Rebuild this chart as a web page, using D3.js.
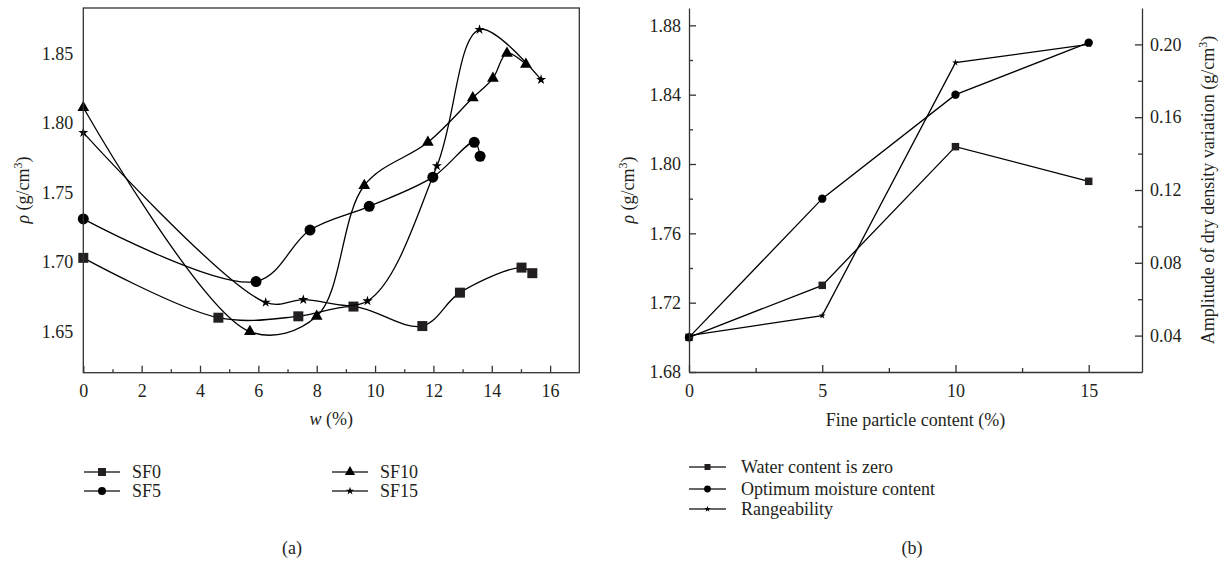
<!DOCTYPE html>
<html>
<head>
<meta charset="utf-8">
<script src="https://cdn.jsdelivr.net/npm/d3@7"></script>
<style>
  body { margin: 0; background: #fff; }
  text { font-family: "Liberation Serif", "DejaVu Serif", serif; font-size: 18px; fill: #231f20; }
</style>
</head>
<body>
<svg width="1226" height="567"></svg>
<script>
// ---- panel (a): dry density vs water content, one series per fine content
const sf0W   = [0, 4.63, 7.37, 9.26, 11.62, 12.91, 15.02, 15.39];
const sf0Rho = [1.703, 1.660, 1.661, 1.668, 1.654, 1.678, 1.696, 1.692];
const sf5W   = [0, 5.92, 7.77, 9.80, 11.98, 13.40, 13.60];
const sf5Rho = [1.731, 1.686, 1.723, 1.740, 1.761, 1.786, 1.776];
const sf10W   = [0, 5.71, 8.00, 9.63, 11.81, 13.35, 14.04, 14.52, 15.17];
const sf10Rho = [1.811, 1.650, 1.661, 1.755, 1.786, 1.818, 1.832, 1.850, 1.842];
const sf15W   = [0, 6.25, 7.54, 9.74, 12.12, 13.58, 15.69];
const sf15Rho = [1.793, 1.671, 1.673, 1.672, 1.769, 1.867, 1.831];
const seriesA = ["SF0", "SF5", "SF10", "SF15"];
const wTicks = [0, 2, 4, 6, 8, 10, 12, 14, 16];
const rhoTicksA = [1.65, 1.70, 1.75, 1.80, 1.85];

// ---- panel (b): vs fine particle content
const fineContent = [0, 5, 10, 15];
const waterZero    = [1.70, 1.73, 1.81, 1.79];
const optimum      = [1.70, 1.78, 1.84, 1.87];
const rangeability = [0.040, 0.051, 0.190, 0.200];   // right axis
const seriesB = ["Water content is zero", "Optimum moisture content", "Rangeability"];
const fineTicks = [0, 5, 10, 15];
const rhoTicksB = [1.68, 1.72, 1.76, 1.80, 1.84, 1.88];
const ampTicks = [0.04, 0.08, 0.12, 0.16, 0.20];

const svg = d3.select("svg");
const ink = "#231f20";

const sym = {
  square: d3.symbolSquare, circle: d3.symbolCircle,
  triangle: d3.symbolTriangle, star: d3.symbolStar
};

function rhoLabel(sel) {
  sel.append("tspan").attr("font-style", "italic").text("ρ");
  sel.append("tspan").text(" (g/cm");
  sel.append("tspan").attr("font-size", 12).attr("dy", -7).text("3");
  sel.append("tspan").attr("dy", 7).text(")");
}

// ================= (a)
const xa = d3.scaleLinear().domain([0, 17]).range([83.3, 579.3]);
const ya = d3.scaleLinear().domain([1.6205, 1.8825]).range([372.7, 8]);

const ga = svg.append("g");

const curveA = d3.line()
  .x(d => xa(d[0])).y(d => ya(d[1]))
  .curve(d3.curveCatmullRom.alpha(0.5));

const dataA = [
  {w: sf0W, r: sf0Rho, s: "square", size: 100},
  {w: sf5W, r: sf5Rho, s: "circle", size: 95},
  {w: sf10W, r: sf10Rho, s: "triangle", size: 60},
  {w: sf15W, r: sf15Rho, s: "star", size: 32}
];

dataA.forEach(d => {
  const pts = d.w.map((w, i) => [w, d.r[i]]);
  ga.append("path").attr("d", curveA(pts))
    .attr("fill", "none").attr("stroke", "#000").attr("stroke-width", 1.3);
  ga.selectAll(null).data(pts).join("path")
    .attr("transform", p => `translate(${xa(p[0])},${ya(p[1])})`)
    .attr("d", d3.symbol(sym[d.s], d.size))
    .attr("fill", d.s === "square" ? ink : "#000");
});

// frame
ga.append("rect")
  .attr("x", xa(0)).attr("y", ya.range()[1])
  .attr("width", xa(17) - xa(0)).attr("height", ya.range()[0] - ya.range()[1])
  .attr("fill", "none").attr("stroke", "#333").attr("stroke-width", 1.3);

ga.append("g")
  .attr("transform", `translate(0,${ya.range()[0]})`)
  .call(d3.axisBottom(xa).tickValues(wTicks).tickSizeInner(-7).tickSizeOuter(0).tickPadding(12))
  .call(g => g.select(".domain").remove())
  .call(g => g.selectAll("line").attr("stroke", "#333").attr("stroke-width", 1.3))
  .call(g => g.selectAll("text").attr("font-family", null));

ga.append("g")
  .attr("transform", `translate(0,${ya.range()[0]})`)
  .call(d3.axisBottom(xa).tickValues(d3.range(1, 17, 2)).tickSizeInner(-3.5).tickSizeOuter(0).tickFormat(""))
  .call(g => g.select(".domain").remove())
  .call(g => g.selectAll("line").attr("stroke", "#333").attr("stroke-width", 1.3));

ga.append("g")
  .attr("transform", `translate(${xa(0)},0)`)
  .call(d3.axisLeft(ya).tickValues(rhoTicksA).tickSize(0).tickPadding(10).tickFormat(d3.format(".2f")))
  .call(g => g.select(".domain").remove())
  .call(g => g.selectAll("text").attr("font-family", null));

ga.append("text")
  .attr("x", (xa(0) + xa(17)) / 2).attr("y", 425).attr("text-anchor", "middle")
  .call(t => {
    t.append("tspan").attr("font-style", "italic").text("w");
    t.append("tspan").text(" (%)");
  });

ga.append("text")
  .attr("transform", `translate(29,190) rotate(-90)`).attr("text-anchor", "middle")
  .call(rhoLabel);

// legend (a)
const legA = [
  {x: 84, y: 472, s: "square", size: 64},
  {x: 84, y: 491, s: "circle", size: 50},
  {x: 332, y: 472, s: "triangle", size: 45},
  {x: 332, y: 491, s: "star", size: 20}
];
legA.forEach((l, i) => {
  const g = ga.append("g").attr("transform", `translate(${l.x},${l.y})`);
  g.append("line").attr("x1", 0).attr("x2", 36).attr("stroke", "#333").attr("stroke-width", 1.5);
  g.append("path").attr("transform", "translate(18,0)")
    .attr("d", d3.symbol(sym[l.s], l.size)).attr("fill", l.s === "square" ? ink : "#000");
  g.append("text").attr("x", 48).attr("dy", "0.35em").text(seriesA[i]);
});

ga.append("text").attr("x", 292).attr("y", 548).attr("dy", "0.35em")
  .attr("text-anchor", "middle").text("(a)");

// ================= (b)
const xb = d3.scaleLinear().domain([0, 17]).range([689, 1142]);
const yb = d3.scaleLinear().domain([1.68, 1.89]).range([372, 8]);
const yr = d3.scaleLinear().domain([0.02, 0.22]).range([372, 8]);

const gb = svg.append("g");

const dataB = [
  {v: waterZero, y: yb, s: "square", size: 56},
  {v: optimum, y: yb, s: "circle", size: 55},
  {v: rangeability, y: yr, s: "star", size: 14}
];

dataB.forEach(d => {
  const line = d3.line().x((v, i) => xb(fineContent[i])).y(v => d.y(v));
  gb.append("path").attr("d", line(d.v))
    .attr("fill", "none").attr("stroke", "#000").attr("stroke-width", 1.3);
});
dataB.forEach(d => {
  gb.selectAll(null).data(d.v).join("path")
    .attr("transform", (v, i) => `translate(${xb(fineContent[i])},${d.y(v)})`)
    .attr("d", d3.symbol(sym[d.s], d.size))
    .attr("fill", d.s === "square" ? ink : "#000");
});

function styleAxis(g) {
  g.selectAll("line").attr("stroke", "#333").attr("stroke-width", 1.3);
  g.select(".domain").attr("stroke", "#333").attr("stroke-width", 1.3);
  g.selectAll("text").attr("font-family", null);
}

gb.append("g")
  .attr("transform", `translate(0,${yb.range()[0]})`)
  .call(d3.axisBottom(xb).tickValues(fineTicks).tickSizeInner(-7).tickSizeOuter(0).tickPadding(12))
  .call(styleAxis);
gb.append("g")
  .attr("transform", `translate(0,${yb.range()[0]})`)
  .call(d3.axisBottom(xb).tickValues([2.5, 7.5, 12.5]).tickSizeInner(-4).tickSizeOuter(0).tickFormat(""))
  .call(g => g.select(".domain").remove())
  .call(styleAxis);

gb.append("g")
  .attr("transform", `translate(${xb(0)},0)`)
  .call(d3.axisLeft(yb).tickValues(rhoTicksB).tickSizeInner(-7).tickSizeOuter(0).tickPadding(8).tickFormat(d3.format(".2f")))
  .call(styleAxis);
gb.append("g")
  .attr("transform", `translate(${xb(0)},0)`)
  .call(d3.axisLeft(yb).tickValues([1.70, 1.74, 1.78, 1.82, 1.86]).tickSizeInner(-4).tickSizeOuter(0).tickFormat(""))
  .call(g => g.select(".domain").remove())
  .call(styleAxis);

gb.append("g")
  .attr("transform", `translate(${xb(17)},0)`)
  .call(d3.axisRight(yr).tickValues(ampTicks).tickSizeInner(-7).tickSizeOuter(0).tickPadding(8).tickFormat(d3.format(".2f")))
  .call(styleAxis);
gb.append("g")
  .attr("transform", `translate(${xb(17)},0)`)
  .call(d3.axisRight(yr).tickValues([0.06, 0.10, 0.14, 0.18]).tickSizeInner(-4).tickSizeOuter(0).tickFormat(""))
  .call(g => g.select(".domain").remove())
  .call(styleAxis);

gb.append("text")
  .attr("x", (xb(0) + xb(17)) / 2).attr("y", 420).attr("dy", "0.35em").attr("text-anchor", "middle")
  .text("Fine particle content (%)");

gb.append("text")
  .attr("transform", `translate(634,190) rotate(-90)`).attr("text-anchor", "middle")
  .call(rhoLabel);

gb.append("text")
  .attr("transform", `translate(1214,190) rotate(-90)`).attr("text-anchor", "middle")
  .call(t => {
    t.append("tspan").text("Amplitude of dry density variation (g/cm");
    t.append("tspan").attr("font-size", 12).attr("dy", -7).text("3");
    t.append("tspan").attr("dy", 7).text(")");
  });

// legend (b)
const legB = [
  {y: 467, s: "square", size: 36},
  {y: 489, s: "circle", size: 36},
  {y: 509, s: "star", size: 12}
];
legB.forEach((l, i) => {
  const g = gb.append("g").attr("transform", `translate(689,${l.y})`);
  g.append("line").attr("x1", 0).attr("x2", 37).attr("stroke", "#333").attr("stroke-width", 1.5);
  g.append("path").attr("transform", "translate(18.5,0)")
    .attr("d", d3.symbol(sym[l.s], l.size)).attr("fill", l.s === "square" ? ink : "#000");
  g.append("text").attr("x", 52).attr("dy", "0.35em").text(seriesB[i]);
});

gb.append("text").attr("x", 912).attr("y", 548).attr("dy", "0.35em")
  .attr("text-anchor", "middle").text("(b)");
</script>
</body>
</html>
